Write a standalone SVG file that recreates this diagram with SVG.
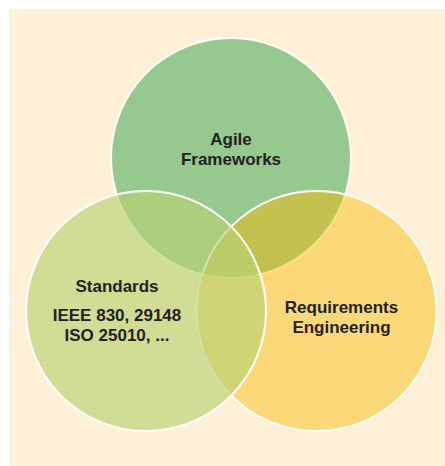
<svg xmlns="http://www.w3.org/2000/svg" width="445" height="466" viewBox="0 0 445 466">
  <style>
    .lbl { font-family: "Liberation Sans", Arial, sans-serif; font-size: 17px; font-weight: 700; fill: #222222; text-anchor: middle; }
    .ring { stroke: #ffffff; stroke-width: 2; }
  </style>
  <rect x="0" y="0" width="445" height="466" fill="#ffffff"/>
  <rect x="9" y="9" width="436" height="457" fill="#FEF0D7"/>
  <g id="agile-frameworks">
    <circle class="ring" cx="231" cy="158" r="120" fill="#96C98D"/>
    <text class="lbl" x="231" y="145">Agile</text>
    <text class="lbl" x="231" y="164.5">Frameworks</text>
  </g>
  <g id="requirements-engineering">
    <circle class="ring" cx="316.5" cy="311" r="120" fill="#FABB05" fill-opacity="0.45"/>
    <text class="lbl" x="341.5" y="313.2">Requirements</text>
    <text class="lbl" x="341.5" y="332.7">Engineering</text>
  </g>
  <g id="standards">
    <circle class="ring" cx="146" cy="311" r="120" fill="#B9D274" fill-opacity="0.66"/>
    <text class="lbl" x="117" y="291.5">Standards</text>
    <text class="lbl" x="117" y="321">IEEE 830, 29148</text>
    <text class="lbl" x="117" y="340.5">ISO 25010, ...</text>
  </g>
</svg>
